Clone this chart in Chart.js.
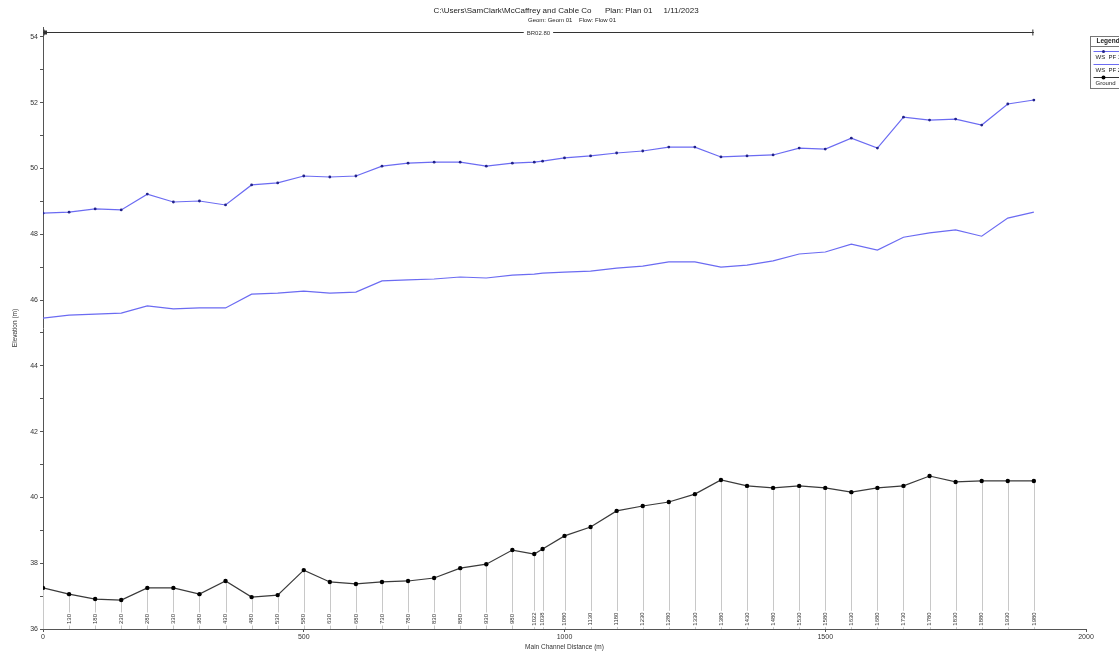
<!DOCTYPE html>
<html>
<head>
<meta charset="utf-8">
<script src="https://cdn.jsdelivr.net/npm/chart.js@4.4.1/dist/chart.umd.min.js"></script>
<style>
  body { margin: 0; background: #fff; }
  canvas { display: block; }
</style>
</head>
<body>
<canvas id="profileChart" width="1119" height="654"></canvas>
<script>
// profile plot - water surface vs ground

const distances = [0, 50, 100, 150, 200, 250, 300, 350, 400, 450, 500, 550, 600, 650, 700, 750, 800, 850, 900, 942, 958,
  1000, 1050, 1100, 1150, 1200, 1250, 1300, 1350, 1400, 1450, 1500, 1550, 1600, 1650, 1700, 1750, 1800, 1850, 1900];

const stations = ['', '130', '180', '230', '280', '330', '380', '430', '480', '530', '580', '630', '680', '730', '780', '830',
  '880', '930', '980', '1022', '1038', '1080', '1130', '1180', '1230', '1280', '1330', '1380', '1430', '1480', '1530',
  '1580', '1630', '1680', '1730', '1780', '1830', '1880', '1930', '1980'];

const wsPF1 = [48.64, 48.67, 48.77, 48.74, 49.22, 48.98, 49.01, 48.89, 49.50, 49.56, 49.77, 49.74, 49.77, 50.07, 50.16,
  50.19, 50.19, 50.07, 50.16, 50.19, 50.22, 50.32, 50.38, 50.47, 50.53, 50.65, 50.65, 50.35, 50.38, 50.41, 50.62, 50.59,
  50.92, 50.62, 51.56, 51.47, 51.50, 51.32, 51.96, 52.08];

const wsPF2 = [45.45, 45.54, 45.57, 45.60, 45.82, 45.73, 45.76, 45.76, 46.18, 46.21, 46.27, 46.21, 46.24, 46.58, 46.61,
  46.64, 46.70, 46.67, 46.76, 46.79, 46.82, 46.85, 46.88, 46.97, 47.03, 47.16, 47.16, 47.00, 47.06, 47.19, 47.40, 47.46,
  47.70, 47.52, 47.91, 48.04, 48.13, 47.94, 48.49, 48.67];

const ground = [37.25, 37.06, 36.91, 36.88, 37.25, 37.25, 37.06, 37.46, 36.97, 37.03, 37.79, 37.43, 37.37, 37.43, 37.46,
  37.55, 37.85, 37.97, 38.40, 38.28, 38.43, 38.83, 39.10, 39.59, 39.74, 39.86, 40.10, 40.53, 40.35, 40.29, 40.35, 40.29,
  40.16, 40.29, 40.35, 40.65, 40.47, 40.50, 40.50, 40.50];

const bridgeName = 'BR02.80';
const bridgeStart = 0;
const bridgeEnd = 1900;
const bridgeElev = 54.15;

const titleText = 'C:\\Users\\SamClark\\McCaffrey and Cable Co      Plan: Plan 01     1/11/2023';
const subTitleText = 'Geom: Geom 01    Flow: Flow 01';

const FONT = "'Liberation Sans', Arial, sans-serif";
const BLUE = '#6b6bf2';

const pts = arr => distances.map((d, i) => ({ x: d, y: arr[i] }));

const extras = {
  id: 'extras',
  beforeDatasetsDraw(chart) {
    const ctx = chart.ctx;
    const xs = chart.scales.x, ys = chart.scales.y;
    const bottom = chart.chartArea.bottom;
    ctx.save();
    // drop lines from ground to axis
    ctx.strokeStyle = '#c8c8c8';
    ctx.lineWidth = 1;
    distances.forEach((d, i) => {
      const px = Math.round(xs.getPixelForValue(d)) + 0.5;
      ctx.beginPath();
      ctx.moveTo(px, ys.getPixelForValue(ground[i]));
      ctx.lineTo(px, bottom);
      ctx.stroke();
    });
    // station labels
    ctx.font = '6px ' + FONT;
    ctx.textAlign = 'center';
    ctx.textBaseline = 'middle';
    distances.forEach((d, i) => {
      if (!stations[i]) return;
      const px = xs.getPixelForValue(d);
      const w = ctx.measureText(stations[i]).width;
      ctx.save();
      ctx.translate(px, bottom - 10);
      ctx.rotate(-Math.PI / 2);
      ctx.fillStyle = '#fff';
      ctx.fillRect(-w / 2 - 1.5, -3.5, w + 3, 7);
      ctx.fillStyle = '#333';
      ctx.fillText(stations[i], 0, 0);
      ctx.restore();
    });
    ctx.restore();
  },
  afterDraw(chart) {
    const ctx = chart.ctx;
    const xs = chart.scales.x, ys = chart.scales.y;
    ctx.save();
    // title
    ctx.fillStyle = '#222';
    ctx.textAlign = 'center';
    ctx.textBaseline = 'middle';
    ctx.font = '8px ' + FONT;
    ctx.fillText(titleText, 566, 11);
    ctx.font = '6px ' + FONT;
    ctx.fillText(subTitleText, 572, 20);

    // bridge line
    const by = Math.round(ys.getPixelForValue(bridgeElev)) + 0.5;
    const bx0 = xs.getPixelForValue(bridgeStart), bx1 = xs.getPixelForValue(bridgeEnd);
    ctx.strokeStyle = '#333';
    ctx.lineWidth = 1;
    ctx.beginPath();
    ctx.moveTo(bx0, by); ctx.lineTo(bx1, by);
    ctx.moveTo(bx0 + 1, by - 3); ctx.lineTo(bx0 + 1, by + 3);
    ctx.moveTo(bx1 - 1, by - 3); ctx.lineTo(bx1 - 1, by + 3);
    ctx.stroke();
    ctx.fillStyle = '#333';
    ctx.fillRect(bx0 + 1, by - 2, 3, 4);
    ctx.font = '6px ' + FONT;
    const lbl = bridgeName;
    const lw = ctx.measureText(lbl).width;
    const mid = (bx0 + bx1) / 2;
    ctx.fillStyle = '#fff';
    ctx.fillRect(mid - lw / 2 - 3, by - 4, lw + 6, 8);
    ctx.fillStyle = '#333';
    ctx.fillText(lbl, mid, by + 0.5);

    // legend box (runs off the right edge)
    const lx = 1090.5, ly = 36.5;
    ctx.strokeStyle = '#777';
    ctx.strokeRect(lx, ly, 60, 52);
    ctx.beginPath();
    ctx.moveTo(lx, ly + 10); ctx.lineTo(lx + 60, ly + 10);
    ctx.stroke();
    ctx.textAlign = 'left';
    ctx.fillStyle = '#222';
    ctx.font = 'bold 6.5px ' + FONT;
    ctx.fillText('Legend', lx + 6, ly + 5);
    ctx.font = '6px ' + FONT;
    const rows = [
      { name: 'WS  PF 1', color: BLUE, dot: '#22228a', r: 1.5 },
      { name: 'WS  PF 2', color: BLUE, dot: null },
      { name: 'Ground', color: '#333', dot: '#000', r: 2 }
    ];
    rows.forEach((r, i) => {
      const yy = ly + 15 + i * 13;
      ctx.strokeStyle = r.color;
      ctx.beginPath();
      ctx.moveTo(lx + 3, yy); ctx.lineTo(lx + 40, yy);
      ctx.stroke();
      if (r.dot) {
        ctx.fillStyle = r.dot;
        ctx.beginPath();
        ctx.arc(lx + 13, yy, r.r, 0, Math.PI * 2);
        ctx.fill();
      }
      ctx.fillStyle = '#222';
      ctx.fillText(r.name, lx + 5, yy + 6);
    });
    ctx.restore();
  }
};

const ctx = document.getElementById('profileChart').getContext('2d');

new Chart(ctx, {
  type: 'line',
  data: {
    datasets: [
      {
        label: 'Ground',
        data: pts(ground),
        borderColor: '#3a3a3a',
        borderWidth: 1.2,
        pointRadius: 2.2,
        pointBackgroundColor: '#000',
        pointBorderWidth: 0,
        tension: 0
      },
      {
        label: 'WS PF 2',
        data: pts(wsPF2),
        borderColor: BLUE,
        borderWidth: 1.2,
        pointRadius: 0,
        tension: 0
      },
      {
        label: 'WS PF 1',
        data: pts(wsPF1),
        borderColor: BLUE,
        borderWidth: 1.2,
        pointRadius: 1.4,
        pointBackgroundColor: '#22228a',
        pointBorderWidth: 0,
        tension: 0
      }
    ]
  },
  options: {
    responsive: false,
    animation: false,
    events: [],
    layout: { padding: { top: 27, right: 33, left: 0, bottom: 0 } },
    plugins: {
      legend: { display: false },
      tooltip: { enabled: false }
    },
    scales: {
      x: {
        type: 'linear',
        min: 0,
        max: 2000,
        afterFit: s => { s.height = 25; },
        border: { color: '#555', width: 1 },
        grid: { drawOnChartArea: false, tickLength: 3, color: '#555' },
        ticks: {
          stepSize: 500,
          color: '#333',
          font: { family: FONT, size: 7 },
          padding: 1,
          callback: v => String(v)
        },
        title: { display: true, text: 'Main Channel Distance (m)', color: '#333', font: { family: FONT, size: 6.5 }, padding: { top: 0, bottom: 3 } }
      },
      y: {
        min: 36,
        max: 54.3,
        afterFit: s => { s.width = 43; },
        afterBuildTicks: s => { s.ticks = s.ticks.filter(t => Number.isInteger(t.value)); },
        border: { color: '#555', width: 1 },
        grid: { drawOnChartArea: false, tickLength: 3, color: '#555' },
        ticks: {
          stepSize: 1,
          autoSkip: false,
          color: '#333',
          padding: 2,
          font: { family: FONT, size: 7 },
          callback: v => (v % 2 === 0 ? String(v) : '')
        },
        title: { display: true, text: 'Elevation (m)', color: '#333', font: { family: FONT, size: 6.5 }, padding: { top: 11, bottom: 0 } }
      }
    }
  },
  plugins: [extras]
});
</script>
</body>
</html>
